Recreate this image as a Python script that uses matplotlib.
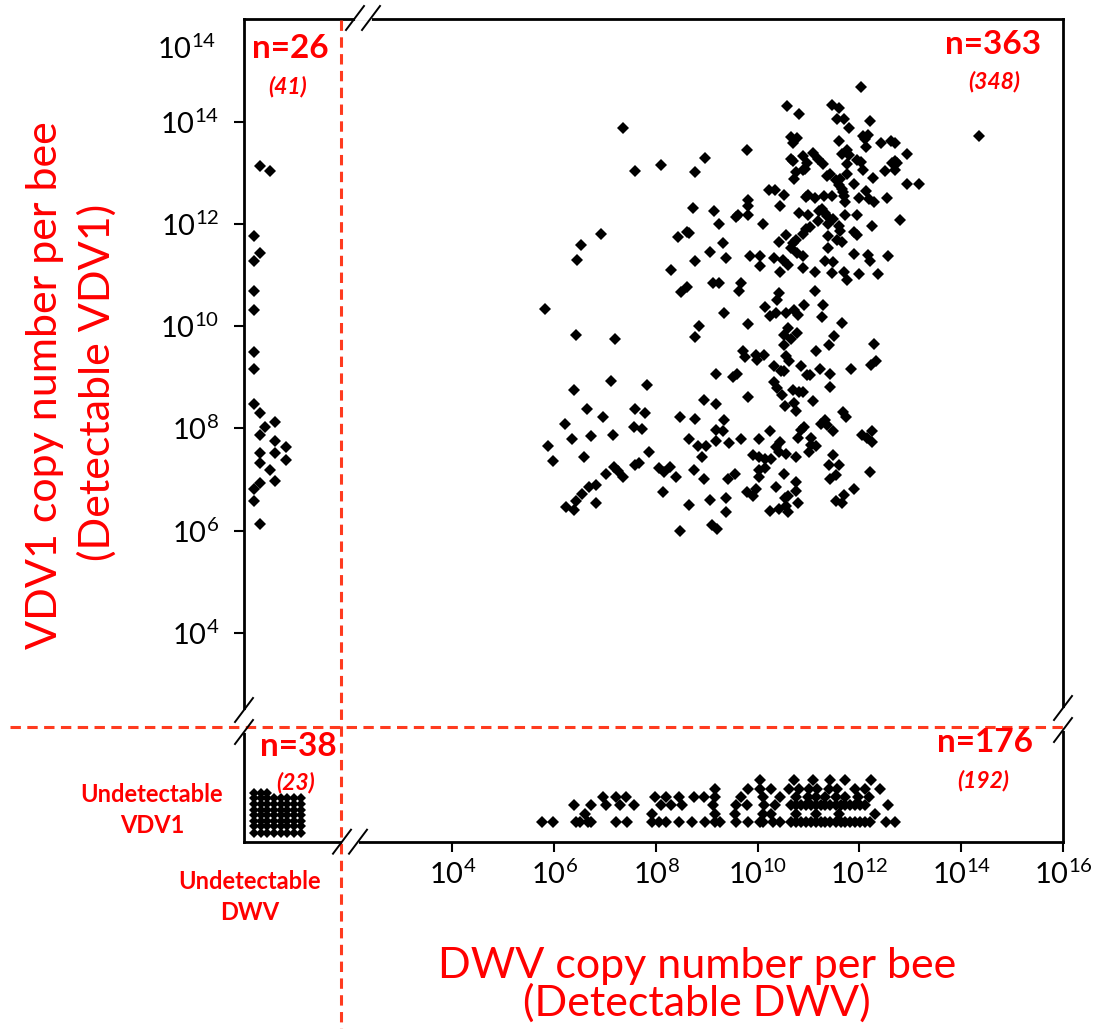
import numpy as np
import matplotlib
matplotlib.use("Agg")
import matplotlib.pyplot as plt
from matplotlib.lines import Line2D
from matplotlib.ticker import FixedLocator, LogFormatterSciNotation, NullLocator

plt.rcParams["font.family"] = ["Lato", "DejaVu Sans"]
plt.rcParams["mathtext.fontset"] = "custom"
plt.rcParams["mathtext.rm"] = "Lato"
plt.rcParams["mathtext.it"] = "Lato:italic"
plt.rcParams["mathtext.bf"] = "Lato:bold"

RED = "#ff0000"
DASH_RED = "#ff3b1f"
W, H = 1116, 1029

# log10 copy numbers per bee, both viruses detected: (DWV, VDV1)
both_detected = [
    (7.36, 13.87), (7.59, 13.04), (8.09, 13.15), (8.77, 13.01), (8.97, 13.29), (9.78, 13.44),
    (9.81, 12.47), (9.81, 12.36), (9.81, 12.17), (8.73, 12.32), (9.14, 12.25), (9.24, 11.99),
    (9.57, 12.13), (9.62, 12.17), (8.44, 11.74), (8.61, 11.85), (8.64, 11.83), (9.31, 11.63),
    (9.07, 11.45), (9.38, 11.34), (8.77, 11.27), (8.30, 11.09), (9.84, 11.38), (9.13, 10.84),
    (9.24, 10.84), (9.68, 10.84), (9.64, 10.69), (8.60, 10.77), (8.50, 10.66), (9.34, 10.26),
    (6.92, 11.81), (6.52, 11.59), (6.45, 11.30), (5.81, 10.33),
    (6.42, 9.83), (7.19, 9.75), (8.84, 10.01), (8.77, 9.79), (9.81, 10.04), (9.71, 9.51),
    (9.75, 9.39), (9.97, 9.43), (9.98, 9.34), (10.13, 9.43), (9.17, 9.07), (9.52, 9.00),
    (9.60, 9.07), (9.81, 8.62), (8.94, 8.56), (9.17, 8.48), (7.12, 8.92), (7.83, 8.84),
    (6.39, 8.74), (6.65, 8.38), (6.96, 8.23), (7.59, 8.38), (7.79, 8.30), (7.56, 8.02),
    (7.73, 7.98), (6.22, 8.08), (6.35, 7.80), (6.72, 7.84), (7.16, 7.87), (5.88, 7.65),
    (5.98, 7.36), (6.59, 7.44), (7.87, 7.54), (8.47, 8.23), (8.77, 8.19), (9.34, 8.16),
    (9.17, 7.96), (9.32, 7.95), (9.17, 7.76), (9.44, 7.72), (9.68, 7.80), (10.02, 7.80),
    (8.64, 7.80), (8.83, 7.65), (8.98, 7.65), (8.90, 7.44), (8.74, 7.18), (8.94, 7.00),
    (9.41, 7.00), (9.55, 7.11), (9.91, 7.48), (10.02, 7.44), (10.02, 7.19), (10.02, 7.04),
    (9.97, 6.82), (9.78, 6.75), (9.91, 6.68), (9.38, 6.64), (9.07, 6.60), (9.38, 6.36),
    (8.64, 6.49), (8.13, 6.75), (8.40, 7.04), (8.05, 7.22), (8.16, 7.14), (8.27, 7.25),
    (7.59, 7.29), (7.66, 7.33), (7.18, 7.24), (7.25, 7.16), (7.36, 7.04), (7.02, 7.11),
    (6.83, 6.90), (6.69, 6.86), (6.55, 6.71), (6.42, 6.57), (6.24, 6.46), (6.39, 6.41),
    (6.82, 6.53), (8.47, 6.00), (9.10, 6.11), (9.20, 6.03),
    (12.03, 14.67), (10.58, 14.31), (10.82, 14.16), (11.45, 14.32), (11.59, 14.27), (11.55, 14.05),
    (11.70, 14.05), (12.20, 14.02), (11.80, 13.87), (14.35, 13.73), (10.65, 13.70), (10.78, 13.69),
    (10.69, 13.58), (11.59, 13.62), (12.06, 13.73), (12.16, 13.74), (12.11, 13.67), (12.13, 13.50),
    (12.42, 13.58), (12.62, 13.63), (12.70, 13.58), (12.94, 13.37), (11.09, 13.39), (10.65, 13.28),
    (10.69, 13.24), (10.89, 13.33), (10.97, 13.20), (11.18, 13.27), (11.28, 13.18), (11.66, 13.37),
    (11.76, 13.45), (11.79, 13.35), (11.76, 13.18), (11.96, 13.26), (12.02, 13.22), (12.70, 13.24),
    (12.74, 13.20), (12.64, 13.20), (12.50, 13.04), (12.70, 13.05), (12.06, 13.05), (10.75, 13.02),
    (10.93, 13.08), (10.88, 13.06), (10.72, 12.88), (11.36, 12.94), (11.43, 12.98), (11.53, 12.85),
    (11.61, 12.88), (11.76, 12.98), (11.89, 12.79), (12.26, 12.90), (12.93, 12.79), (13.16, 12.79),
    (10.23, 12.66), (10.34, 12.66), (10.52, 12.57), (10.44, 12.36), (10.95, 12.52), (10.99, 12.57),
    (11.13, 12.50), (11.30, 12.54), (11.45, 12.55), (11.59, 12.77), (11.65, 12.68), (11.67, 12.62),
    (11.70, 12.54), (11.72, 12.43), (12.00, 12.50), (12.13, 12.65), (12.18, 12.49), (12.29, 12.42),
    (12.54, 12.50), (10.82, 12.21), (10.99, 12.17), (11.20, 12.26), (11.26, 12.30), (11.32, 12.21),
    (11.37, 12.16), (11.18, 12.06), (11.39, 12.00), (11.48, 12.09), (11.59, 11.95), (11.62, 11.87),
    (11.72, 12.17), (11.96, 12.18), (12.25, 11.96), (12.79, 12.07), (10.10, 11.99), (10.55, 11.78),
    (10.42, 11.64), (10.95, 11.90), (11.02, 11.94), (10.88, 11.81), (10.75, 11.69), (10.69, 11.62),
    (10.65, 11.53), (11.39, 11.76), (11.56, 11.69), (11.65, 11.64), (11.89, 11.85), (11.96, 11.78),
    (11.39, 11.53), (10.05, 11.38), (10.32, 11.33), (10.49, 11.30), (10.59, 11.20), (10.78, 11.44),
    (10.88, 11.38), (10.04, 11.17), (11.32, 11.27), (11.47, 11.25), (11.89, 11.42), (12.16, 11.40),
    (12.20, 11.27), (12.57, 11.38), (10.44, 11.06), (10.89, 11.14), (11.12, 11.06), (11.45, 11.03),
    (11.69, 11.05), (11.76, 10.91), (12.00, 11.01), (12.37, 11.02), (11.12, 10.69), (10.42, 10.65),
    (10.38, 10.52), (10.15, 10.37), (10.91, 10.41), (11.29, 10.41), (10.36, 10.26), (10.56, 10.26),
    (10.72, 10.32), (10.80, 10.22), (10.25, 10.19), (11.27, 10.18),
    (11.66, 10.07), (10.59, 9.97), (10.77, 9.86), (10.51, 9.82), (10.65, 9.75), (11.49, 9.80),
    (11.41, 9.64), (10.51, 9.64), (12.29, 9.65), (11.14, 9.52), (10.56, 9.42), (10.61, 9.31),
    (12.33, 9.32), (12.22, 9.24), (10.31, 9.21), (10.45, 9.13), (10.51, 9.13), (10.85, 9.21),
    (11.22, 9.17), (11.83, 9.17), (10.96, 9.04), (11.02, 9.04), (11.42, 9.07), (10.32, 8.91),
    (10.38, 8.78), (10.47, 8.66), (10.70, 8.74), (10.82, 8.71), (10.89, 8.71), (11.42, 8.81),
    (11.09, 8.53), (10.54, 8.44), (10.72, 8.49), (10.75, 8.34), (11.68, 8.31), (11.74, 8.23),
    (11.33, 8.17), (11.25, 8.09), (11.37, 8.07), (11.48, 7.94), (10.91, 8.03), (10.85, 7.97),
    (10.25, 7.94), (10.80, 7.82), (11.04, 7.81), (11.04, 7.68), (11.15, 7.65), (10.44, 7.73),
    (10.36, 7.63), (10.42, 7.53), (10.56, 7.50), (11.01, 7.53), (10.75, 7.44), (12.05, 7.87),
    (12.14, 7.81), (12.25, 7.74), (12.25, 7.95), (11.48, 7.47), (11.41, 7.29), (11.59, 7.29),
    (10.14, 7.39), (10.27, 7.40), (10.14, 7.23), (10.52, 7.11), (12.20, 7.14), (11.53, 7.09),
    (11.43, 7.01), (10.75, 6.94), (10.35, 6.86), (10.75, 6.77), (11.89, 6.82), (10.59, 6.68),
    (10.53, 6.64), (11.69, 6.70), (11.53, 6.57), (11.66, 6.54), (10.79, 6.54), (10.56, 6.47),
    (10.42, 6.42), (10.25, 6.39), (10.59, 6.36),
]

# VDV1 detected, DWV undetectable: log10 VDV1 and the jitter column used in the strip
vdv1_only_log = [13.13, 13.04, 11.77, 11.44, 11.27, 10.69, 10.32, 9.49, 9.17, 8.48, 8.30, 8.12, 8.02,
                 7.87, 7.76, 7.63, 7.52, 7.52, 7.32, 7.37, 7.18, 6.93, 6.96, 6.82, 6.57, 6.13]
vdv1_only_jitter = [0.21, 0.41, 0.10, 0.21, 0.10, 0.10, 0.10, 0.10, 0.10, 0.10, 0.21, 0.51, 0.31,
                    0.21, 0.51, 0.72, 0.21, 0.51, 0.21, 0.72, 0.41, 0.21, 0.51, 0.10, 0.10, 0.21]

# DWV detected, VDV1 undetectable: log10 DWV, stacked in rows (bottom row first)
dwv_only_rows = [
    [5.76, 5.98, 6.42, 6.50, 6.67, 6.73, 7.22, 7.43, 7.93, 8.06, 8.19, 8.45, 8.71, 8.97, 9.16, 9.26,
     9.58, 9.81, 10.04, 10.10, 10.30, 10.43, 10.65, 10.75, 10.85, 10.95, 11.04, 11.14, 11.24, 11.33,
     11.43, 11.53, 11.63, 11.72, 11.82, 11.92, 12.01, 12.11, 12.21, 12.53, 12.70],
    [6.61, 7.93, 9.16, 9.55, 10.10, 10.26, 10.75, 11.14, 11.59, 12.31],
    [6.39, 6.72, 7.02, 7.30, 7.57, 8.09, 8.29, 8.51, 9.13, 9.58, 9.78, 10.13, 10.33, 10.65, 10.75,
     10.85, 10.95, 11.04, 11.14, 11.24, 11.33, 11.43, 11.53, 11.63, 11.72, 11.82, 11.92, 12.01,
     12.11, 12.57],
    [6.96, 7.22, 7.41, 7.99, 8.19, 8.45, 8.74, 8.94, 9.16, 9.68, 10.10, 10.43, 10.75, 10.98, 11.14,
     11.33, 11.53, 11.72, 11.98, 12.18],
    [9.16, 9.81, 10.04, 10.26, 10.62, 10.82, 11.01, 11.17, 11.40, 11.56, 11.92, 12.11, 12.40],
    [10.04, 10.72, 11.08, 11.43, 11.72, 12.23],
]
row_levels = [0.29, 0.46, 0.62, 0.78, 0.94, 1.11]

# neither virus detected: heights of the stacked columns in the corner
neither_columns = [8, 8, 8, 7, 7, 7, 7, 7]
corner_x = [0.10, 0.23, 0.36, 0.49, 0.62, 0.75, 0.88, 1.02]
corner_y = [0.09, 0.21, 0.32, 0.43, 0.54, 0.65, 0.76, 0.87]

x_ticks = [4, 6, 8, 10, 12, 14, 16]
y_ticks = [4, 6, 8, 10, 12, 14]


def fx(px):
    return px / W


def fy(py):
    return 1 - py / H


fig = plt.figure(figsize=(W / 100, H / 100), dpi=100)
ax = fig.add_axes([fx(244), fy(841.7), 819 / W, 822.7 / H])
ax.set_xscale("log")
ax.set_yscale("log")
ax.set_xlim(10 ** -0.098, 10.0 ** 16)
ax.set_ylim(10 ** -0.09, 10 ** 16.01)
ax.xaxis.set_major_locator(FixedLocator([10.0 ** e for e in x_ticks]))
ax.yaxis.set_major_locator(FixedLocator([10.0 ** e for e in y_ticks]))
ax.xaxis.set_major_formatter(LogFormatterSciNotation())
ax.yaxis.set_major_formatter(LogFormatterSciNotation())
ax.xaxis.set_minor_locator(NullLocator())
ax.yaxis.set_minor_locator(NullLocator())
ax.tick_params(axis="both", direction="out", length=7, width=1.5, labelsize=21)
ax.tick_params(axis="x", pad=6)
ax.tick_params(axis="y", pad=11)
for sp in ax.spines.values():
    sp.set_linewidth(2.0)

mk = dict(ls="none", marker="D", ms=6.0, mfc="k", mec="k", mew=0, clip_on=False)

both = np.array(both_detected)
ax.plot(10 ** both[:, 0], 10 ** both[:, 1], **mk)
ax.plot(10 ** np.array(vdv1_only_jitter), 10 ** np.array(vdv1_only_log), **mk)
for level, row in zip(row_levels, dwv_only_rows):
    ax.plot(10 ** np.array(row), np.full(len(row), 10 ** level), **mk)
# the corner stack is tight, so its diamonds are drawn a bit smaller to keep the gaps visible
corner_mk = dict(mk, ms=5.0)
for cx, count in zip(corner_x, neither_columns):
    ys = np.array(corner_y[:count])
    ax.plot(np.full(count, 10 ** cx), 10 ** ys, **corner_mk)

# extra axis label at the top of the y axis
fig.text(fx(216), fy(49), r"$\mathdefault{10^{14}}$", ha="right", va="center", fontsize=21)

# red separators between undetectable and detectable zones
dash = dict(color=DASH_RED, lw=2.2, dashes=(3.4, 2.1), zorder=3)
fig.add_artist(Line2D([fx(341), fx(341)], [fy(20), fy(1029)], transform=fig.transFigure, **dash))
fig.add_artist(Line2D([fx(10), fx(1066)], [fy(726.7), fy(726.7)], transform=fig.transFigure, **dash))


def axis_break(cx, cy, horizontal):
    # two parallel slashes with a white gap on the frame between them
    if horizontal:
        centers = [(cx - 8, cy), (cx + 8, cy)]
        gap = [(cx - 6, cy), (cx + 6, cy)]
    else:
        centers = [(cx, cy - 11), (cx, cy + 11)]
        gap = [(cx, cy - 9), (cx, cy + 9)]
    fig.add_artist(Line2D([fx(gap[0][0]), fx(gap[1][0])], [fy(gap[0][1]), fy(gap[1][1])],
                          transform=fig.transFigure, color="white", lw=3.5, zorder=2))
    for x0, y0 in centers:
        fig.add_artist(Line2D([fx(x0 - 9), fx(x0 + 9)], [fy(y0 + 12), fy(y0 - 12)],
                              transform=fig.transFigure, color="k", lw=1.4, zorder=4))


axis_break(363, 18, True)
axis_break(350, 841.7, True)
axis_break(244, 721, False)
axis_break(1063, 719, False)

# group counts
big = dict(color=RED, fontsize=24, fontweight="bold", ha="center", va="center")
small = dict(color=RED, fontsize=16.5, fontweight="bold", style="italic", ha="center", va="center")
fig.text(fx(290), fy(49), "n=26", **big)
fig.text(fx(288), fy(87), "(41)", **small)
fig.text(fx(993), fy(44), "n=363", **big)
fig.text(fx(994), fy(82), "(348)", **small)
fig.text(fx(298), fy(747), "n=38", **big)
fig.text(fx(296), fy(783), "(23)", **small)
fig.text(fx(985), fy(743), "n=176", **big)
fig.text(fx(983), fy(781), "(192)", **small)

und = dict(color=RED, fontsize=17, fontweight="bold", ha="center", va="center", linespacing=1.4)
fig.text(fx(152), fy(810), "Undetectable\nVDV1", **und)
fig.text(fx(250), fy(897), "Undetectable\nDWV", **und)

# axis titles
lab = dict(color=RED, fontsize=31, ha="center", va="center")
fig.text(fx(45), fy(385), "VDV1 copy number per bee", rotation=90, **lab)
fig.text(fx(97), fy(382), "(Detectable VDV1)", rotation=90, **lab)
fig.text(fx(697), fy(966), "DWV copy number per bee", **lab)
fig.text(fx(697), fy(1003), "(Detectable DWV)", **lab)

fig.savefig("out.png", dpi=100)
